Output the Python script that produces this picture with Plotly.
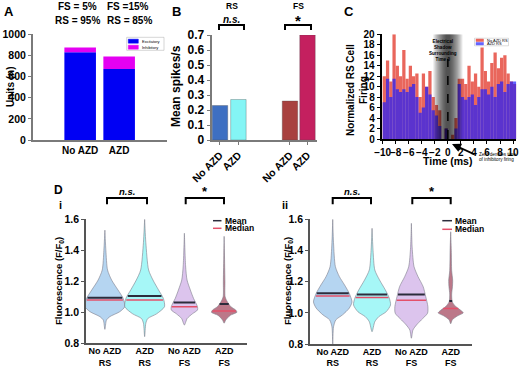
import numpy as np
import plotly.graph_objects as go

W, H = 520, 367

# ================= DATA =================
# Panel A - unit counts
a_groups = ["No AZD", "AZD"]
a_excitatory = [830, 672]
a_inhibitory = [45, 118]
a_fs_text = ["FS = 5%", "FS =15%"]
a_rs_text = ["RS = 95%", "RS = 85%"]
a_series = ["Excitatory", "Inhibitory"]

# Panel B - mean spikes/s
b_ticks = ["No AZD", "AZD", "No AZD", "AZD"]
b_means = [0.23, 0.27, 0.26, 0.70]
b_cells = ["RS", "FS"]
b_sig = ["n.s.", "*"]

# Panel C - normalized RS firing around inhibitory spikes (0.5 ms bins)
c_first_bin = -10.0
c_bin_ms = 0.5
c_no_azd_rs = [12, 15, 11, 20, 14, 12, 17, 11.5, 14, 12,
               12.5, 8, 12.5, 10, 13, 8, 6.5, 5.5, 0, 2,
               0, 0.8, 4, 11.5, 11.5, 10.5, 14, 11, 12.5, 10,
               17.5, 13, 11, 14.5, 16.5, 13.5, 15.5, 16, 12.5, 11, 10.5]
c_azd_rs = [7, 11.5, 8, 11.5, 9.5, 9, 9.5, 9, 10, 10.5,
            8, 5, 6, 10, 8.5, 5.5, 4.5, 2.5, 0, 2,
            0, 0, 2, 10.5, 8, 7.5, 8, 8.5, 6.5, 8,
            9.5, 9.5, 8.5, 10, 8, 10.5, 11, 9, 10.5, 11, 11]
c_series = ["No AZD RS", "AZD RS"]
c_ticks = [-10, -8, -6, -4, -2, 0, 2, 4, 6, 8, 10]

# Panel D - fluorescence violins (profile: value levels and relative half widths)
d_ticks = ["No AZD<br>RS", "AZD<br>RS", "No AZD<br>FS", "AZD<br>FS"]
d_sig = ["n.s.", "*"]

vi1_y = [0.89, 0.95, 0.972, 1.004, 1.036, 1.09, 1.144, 1.208, 1.273, 1.40, 1.53]
vi1_w = [0.0, 0.04, 0.125, 0.375, 0.5, 0.46, 0.33, 0.17, 0.067, 0.025, 0.0]
vi2_y = [0.843, 0.93, 0.96, 0.99, 1.036, 1.09, 1.144, 1.208, 1.273, 1.45, 1.6]
vi2_w = [0.0, 0.03, 0.08, 0.3, 0.5, 0.47, 0.35, 0.21, 0.1, 0.03, 0.0]
vi3_y = [0.918, 0.96, 0.99, 1.015, 1.036, 1.09, 1.144, 1.208, 1.3, 1.51]
vi3_w = [0.0, 0.07, 0.2, 0.33, 0.33, 0.23, 0.15, 0.067, 0.03, 0.0]
vi4_y = [0.93, 0.95, 0.98, 1.0, 1.015, 1.036, 1.068, 1.10, 1.2, 1.49]
vi4_w = [0.0, 0.04, 0.15, 0.32, 0.29, 0.17, 0.08, 0.025, 0.02, 0.0]
di_mean = [1.094, 1.105, 1.064, 1.054]
di_median = [1.079, 1.079, 1.036, 1.008]

vii1_y = [0.80, 0.91, 0.955, 0.987, 1.03, 1.07, 1.125, 1.179, 1.232, 1.296, 1.45, 1.6]
vii1_w = [0.0, 0.02, 0.08, 0.25, 0.42, 0.49, 0.42, 0.3, 0.17, 0.068, 0.02, 0.0]
vii2_y = [0.879, 0.943, 0.975, 1.007, 1.05, 1.093, 1.146, 1.211, 1.275, 1.40, 1.542]
vii2_w = [0.0, 0.07, 0.17, 0.36, 0.47, 0.44, 0.34, 0.19, 0.07, 0.025, 0.0]
vii3_y = [0.837, 0.89, 0.922, 0.954, 0.997, 1.04, 1.104, 1.168, 1.232, 1.296, 1.42, 1.574]
vii3_w = [0.0, 0.04, 0.13, 0.25, 0.41, 0.42, 0.365, 0.3, 0.17, 0.068, 0.02, 0.0]
vii4_y = [0.93, 0.955, 0.98, 1.0, 1.015, 1.04, 1.07, 1.12, 1.17, 1.21, 1.27, 1.4, 1.52]
vii4_w = [0.0, 0.04, 0.17, 0.32, 0.26, 0.13, 0.04, 0.025, 0.045, 0.05, 0.025, 0.015, 0.0]
dii_mean = [1.125, 1.117, 1.117, 1.076]
dii_median = [1.108, 1.098, 1.08, 1.027]

# ================= STYLE / LAYOUT CONSTANTS =================
FONT = "Liberation Sans, Arial, Helvetica, sans-serif"
a_pos = [1, 2]
b_pos = [1, 2, 4.8, 5.75]
d_pos = [1, 2, 3, 4]
b_colors = ["#3e6fc2", "#84f5f5", "#a8413f", "#c4205f"]
v_colors = ["rgba(168,206,238,0.85)", "rgba(150,246,246,0.85)",
            "rgba(214,186,234,0.85)", "rgba(176,96,116,0.85)"]


def px(x):
    return x / W


def py(y):
    return 1 - y / H


fig = go.Figure()

# ---------- Panel A ----------
fig.add_bar(x=a_pos, y=a_excitatory, width=0.81, name=a_series[0],
            marker=dict(color="#0000f4", line=dict(width=0)),
            xaxis="x", yaxis="y", showlegend=False)
fig.add_bar(x=a_pos, y=a_inhibitory, base=a_excitatory, width=0.81, name=a_series[1],
            marker=dict(color="#e400f2", line=dict(width=0)),
            xaxis="x", yaxis="y", showlegend=False)

# ---------- Panel B ----------
fig.add_bar(x=b_pos, y=b_means, width=0.84,
            marker=dict(color=b_colors, line=dict(color="rgba(70,70,70,0.45)", width=0.7)),
            xaxis="x2", yaxis="y2", showlegend=False)

# ---------- Panel C ----------
c_centers = c_first_bin + c_bin_ms * (np.arange(len(c_no_azd_rs)) + 0.5)
fig.add_bar(x=c_centers, y=c_no_azd_rs, width=c_bin_ms, name=c_series[0],
            marker=dict(color="rgb(233,102,92)", line=dict(width=0)),
            xaxis="x3", yaxis="y3", showlegend=False)
fig.add_bar(x=c_centers, y=c_azd_rs, width=c_bin_ms, name=c_series[1],
            marker=dict(color="rgba(30,30,255,0.7)", line=dict(width=0)),
            xaxis="x3", yaxis="y3", showlegend=False)


# ---------- Panel D ----------
def violin(xa, ya, center, ys, ws, color, mean, median):
    ys = np.asarray(ys, dtype=float)
    ws = np.asarray(ws, dtype=float)
    xs = np.concatenate([center + ws, (center - ws)[::-1]])
    yy = np.concatenate([ys, ys[::-1]])
    fig.add_scatter(x=xs, y=yy, mode="lines", fill="toself", fillcolor=color,
                    line=dict(color="rgba(125,125,140,0.75)", width=0.8,
                              shape="spline", smoothing=0.7),
                    xaxis=xa, yaxis=ya, hoverinfo="skip", showlegend=False)
    wm = np.interp(median, ys, ws) * 0.97
    fig.add_scatter(x=[center - wm, center + wm], y=[median, median], mode="lines",
                    line=dict(color="#e4506a", width=1.5),
                    xaxis=xa, yaxis=ya, hoverinfo="skip", showlegend=False)
    wmn = np.interp(mean, ys, ws) * 0.97
    fig.add_scatter(x=[center - wmn, center + wmn], y=[mean, mean], mode="lines",
                    line=dict(color="#2c2c3c", width=2),
                    xaxis=xa, yaxis=ya, hoverinfo="skip", showlegend=False)


for k, (ys, ws) in enumerate([(vi1_y, vi1_w), (vi2_y, vi2_w), (vi3_y, vi3_w), (vi4_y, vi4_w)]):
    violin("x4", "y4", d_pos[k], ys, ws, v_colors[k], di_mean[k], di_median[k])
for k, (ys, ws) in enumerate([(vii1_y, vii1_w), (vii2_y, vii2_w), (vii3_y, vii3_w), (vii4_y, vii4_w)]):
    violin("x5", "y5", d_pos[k], ys, ws, v_colors[k], dii_mean[k], dii_median[k])

# ---------- Axes ----------
base_ax = dict(showgrid=False, zeroline=False, showline=True, ticks="outside",
               ticklen=3, tickwidth=1.2, fixedrange=True, automargin=False, tickangle=0)
gray = "#7a7a7a"

layout_axes = dict(
    xaxis=dict(base_ax, domain=[px(33), px(166.7)], range=[-0.21, 3.22], anchor="y",
               tickvals=a_pos, ticktext=a_groups, ticks="", linecolor=gray, linewidth=2,
               tickfont=dict(size=10, weight="bold")),
    yaxis=dict(base_ax, domain=[py(140), py(34.3)], range=[0, 1000], dtick=200, anchor="x",
               linecolor=gray, linewidth=2, tickcolor=gray,
               tickfont=dict(size=10.5, weight="bold")),
    xaxis2=dict(base_ax, domain=[px(211.7), px(316.7)], range=[0.55, 6.25], anchor="y2",
                tickvals=b_pos, ticktext=b_ticks, linecolor=gray, linewidth=2,
                tickcolor=gray, tickfont=dict(size=10.5, weight="bold")),
    yaxis2=dict(base_ax, domain=[py(140), py(35)], range=[0, 0.7], dtick=0.1, anchor="x2",
                linecolor=gray, linewidth=2, tickcolor=gray,
                tickfont=dict(size=12, weight="bold")),
    xaxis3=dict(base_ax, domain=[px(381.7), px(516.3)], range=[-10.15, 10.5], anchor="y3",
                tickvals=c_ticks, linecolor="black", linewidth=2, tickcolor="black",
                tickfont=dict(size=10, weight="bold")),
    yaxis3=dict(base_ax, domain=[py(139), py(34.3)], range=[0, 20], dtick=2, anchor="x3",
                linecolor="black", linewidth=2, tickcolor="black",
                tickfont=dict(size=10, weight="bold")),
    xaxis4=dict(base_ax, domain=[px(86), px(247)], range=[0.525, 4.575], anchor="y4",
                tickvals=d_pos, ticktext=d_ticks, ticks="", linecolor="#555", linewidth=1.5,
                ticklabelstandoff=-2, tickfont=dict(size=9, weight="bold")),
    yaxis4=dict(base_ax, domain=[py(343.3), py(219.3)], range=[0.8, 1.6], dtick=0.2,
                tickformat=".1f", anchor="x4", linecolor="#555", linewidth=1.5, tickcolor="#555",
                tickfont=dict(size=10.5, weight="bold")),
    xaxis5=dict(base_ax, domain=[px(310), px(471.7)], range=[0.422, 4.534], anchor="y5",
                tickvals=d_pos, ticktext=d_ticks, ticks="", linecolor="#555", linewidth=1.5,
                ticklabelstandoff=-2, tickfont=dict(size=9, weight="bold")),
    yaxis5=dict(base_ax, domain=[py(344), py(219.3)], range=[0.8, 1.6], dtick=0.2,
                tickformat=".1f", anchor="x5", linecolor="#555", linewidth=1.5, tickcolor="#555",
                tickfont=dict(size=10.5, weight="bold")),
)
layout_axes["xaxis2"]["tickangle"] = -45

# ---------- Annotations ----------
ann = []


def text(x, y, s, size, angle=0, xanchor="center", bold=True, italic=False, color="black"):
    t = s
    if italic:
        t = "<i>" + t + "</i>"
    if bold:
        t = "<b>" + t + "</b>"
    ann.append(dict(x=px(x), y=py(y), xref="paper", yref="paper", text=t, showarrow=False,
                    textangle=angle, xanchor=xanchor, yanchor="middle",
                    font=dict(size=size, color=color, family=FONT)))


# panel letters
text(9, 11, "A", 13)
text(176, 11, "B", 13)
text(349, 11, "C", 13)
text(58, 190, "D", 12)
text(60, 205, "i", 11)
text(285, 205, "ii", 11)

# Panel A headers and label
text(77, 6, a_fs_text[0], 10)
text(128, 6, a_fs_text[1], 10)
text(77, 20, a_rs_text[0], 10)
text(129, 20, a_rs_text[1], 10)
text(10, 87, "Units (n)", 10, angle=-90)
text(140, 41.2, a_series[0], 4, xanchor="left", bold=False)
text(140, 47.2, a_series[1], 4, xanchor="left", bold=False)

# Panel B
text(232, 6, b_cells[0], 8.5)
text(298, 6, b_cells[1], 8.5)
text(231.5, 19.5, b_sig[0], 10, italic=True)
text(298, 20, b_sig[1], 15)
text(176, 86, "Mean spikes/s", 12, angle=-90)

# Panel C
text(350, 90, "Normalized RS Cell", 10, angle=-90)
text(363, 90, "Firing", 10, angle=-90)
text(447.5, 160.5, "Time (ms)", 10.5)
text(443, 50, "Electrical<br>Shadow<br>Surrounding<br>Time 0", 4.6)
text(477, 154.5, "Zero denotes time", 4.6, xanchor="left", bold=False)
text(477, 159.5, "of inhibitory firing", 4.6, xanchor="left", bold=False)
text(484.5, 40.3, c_series[0], 4, xanchor="left", bold=False)
text(484.5, 43.7, c_series[1], 4, xanchor="left", bold=False)
ann.append(dict(x=px(452), y=py(144), xref="paper", yref="paper", text="", showarrow=True,
                ax=24, ay=11, arrowhead=2, arrowsize=1, arrowwidth=1.8, arrowcolor="black"))

# Panel D
text(59, 281, "Fluorescence (F/F<sub>0</sub>)", 9.5, angle=-90)
text(288, 281, "Fluorescence (F/F<sub>0</sub>)", 9.5, angle=-90)
text(126.7, 192, d_sig[0], 9.5, italic=True)
text(205, 192, d_sig[1], 13)
text(352, 192, d_sig[0], 9.5, italic=True)
text(431.5, 192, d_sig[1], 13)
text(222.5, 220.7, "Mean", 8.5, xanchor="left")
text(222.5, 228.3, "Median", 8.5, xanchor="left")
text(452.7, 220.7, "Mean", 8.5, xanchor="left")
text(452.7, 229.3, "Median", 8.5, xanchor="left")

# ---------- Shapes ----------
shapes = []


def pline(x0, y0, x1, y1, color="black", width=2):
    shapes.append(dict(type="line", xref="paper", yref="paper", x0=px(x0), y0=py(y0),
                       x1=px(x1), y1=py(y1), line=dict(color=color, width=width)))


def prect(x0, y0, x1, y1, fill, line_color=None):
    shapes.append(dict(type="rect", xref="paper", yref="paper", x0=px(x0), y0=py(y0),
                       x1=px(x1), y1=py(y1), fillcolor=fill,
                       line=dict(color=line_color or fill, width=0.5)))


def bracket(x0, x1, ytop, ybot, width=2):
    shapes.append(dict(type="path", xref="paper", yref="paper",
                       path=f"M {px(x0)},{py(ybot)} L {px(x0)},{py(ytop)} L {px(x1)},{py(ytop)} L {px(x1)},{py(ybot)}",
                       line=dict(color="black", width=width)))


# Panel A legend
prect(126.7, 37.3, 164, 50.3, "white", "#aaaaaa")
prect(128.3, 39.2, 138.3, 43.2, "#0000f4")
prect(128.3, 45.2, 138.3, 49.2, "#e400f2")
# Panel C legend
prect(474.5, 38.2, 508.5, 45.8, "rgba(255,255,255,0.9)", "#bbbbbb")
prect(476, 39, 483.5, 41.6, "rgb(233,102,92)")
prect(476, 42.4, 483.5, 45, "rgb(100,100,255)")

# Panel B brackets
bracket(219, 244, 25, 30)
bracket(285, 311, 25, 30)
# Panel D brackets
bracket(107, 147, 198, 204.3)
bracket(185.7, 224, 198, 204.3)
bracket(332.7, 371, 198, 204.3)
bracket(412.3, 450.7, 198, 204.3)
# Panel D legends
pline(213, 220.7, 221.5, 220.7, "#2c2c3c", 1.5)
pline(213, 228.3, 221.5, 228.3, "#e4506a", 1.5)
pline(442.3, 220.7, 452, 220.7, "#2c2c3c", 1.5)
pline(442.3, 229.3, 452, 229.3, "#e4506a", 1.5)

# Panel C electrical shadow gradient (data coordinates)
for k in range(14):
    half = 2.1 * (1 - k / 14) + 0.15
    shapes.append(dict(type="rect", xref="x3", yref="y3", x0=-half, x1=half, y0=0, y1=20,
                       fillcolor="black", opacity=0.075, line=dict(width=0), layer="above"))
shapes.append(dict(type="line", xref="x3", yref="y3", x0=0, x1=0, y0=0, y1=15.3,
                   line=dict(color="black", width=1.5, dash="dash"), layer="above"))

fig.update_layout(
    width=W, height=H,
    margin=dict(l=0, r=0, t=0, b=0, pad=0, autoexpand=False),
    paper_bgcolor="white", plot_bgcolor="white",
    font=dict(family=FONT, color="black"),
    barmode="overlay",
    showlegend=False,
    annotations=ann,
    shapes=shapes,
    **layout_axes,
)

fig.write_html(
    "out.html",
    config={"displayModeBar": False},
    post_script="document.body.style.margin='0px';document.body.style.padding='0px';"
                "document.documentElement.style.overflow='hidden';",
)
